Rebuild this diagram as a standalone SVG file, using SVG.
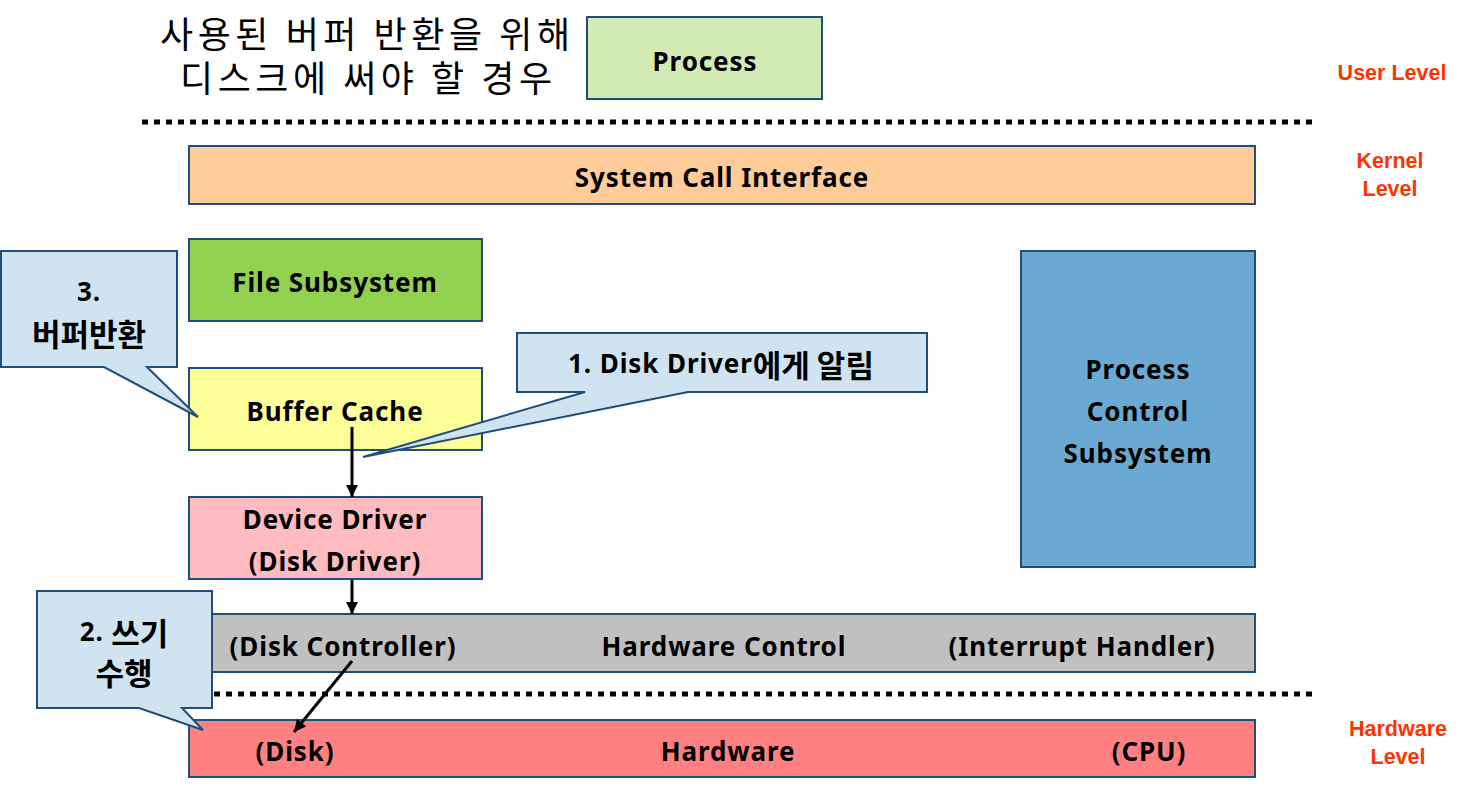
<svg xmlns="http://www.w3.org/2000/svg" width="1466" height="786" viewBox="0 0 1466 786">
<defs>
<style>
.box{stroke:#1F4E79;stroke-width:2}
.t{font-family:"Noto Sans","Noto Sans CJK KR",sans-serif;font-weight:bold;font-size:26px;letter-spacing:0.9px;fill:#000;text-anchor:middle;dominant-baseline:central}
.k{font-family:"Noto Sans CJK KR",sans-serif;font-size:31px;letter-spacing:0}
.lvl{font-family:"Liberation Sans",Arial,sans-serif;font-weight:bold;font-size:21.5px;fill:#FF3300;text-anchor:middle}
.title{font-family:"Noto Sans CJK KR",sans-serif;font-size:36px;fill:#000;text-anchor:middle}
.call{fill:#CFE3F0;stroke:#1F4E79;stroke-width:2;stroke-linejoin:miter}
.dots{stroke:#000;stroke-width:5;stroke-dasharray:6 6;fill:none}
.arr{stroke:#000;stroke-width:3;fill:none;marker-end:url(#ah)}
</style>
<marker id="ah" viewBox="0 0 10 10" refX="10" refY="5" markerWidth="4" markerHeight="4" orient="auto" markerUnits="strokeWidth">
<path d="M0,0 L10,5 L0,10 Z" fill="#000"/>
</marker>
</defs>
<rect width="1466" height="786" fill="#fff"/>

<g id="title">
<text class="title" x="365" y="48" textLength="410" lengthAdjust="spacing">사용된 버퍼 반환을 위해</text>
<text class="title" x="366" y="92" textLength="372" lengthAdjust="spacing">디스크에 써야 할 경우</text>
</g>

<g id="separators">
<line class="dots" x1="142" y1="122" x2="1314" y2="122"/>
<line class="dots" x1="214" y1="694" x2="1314" y2="694"/>
</g>

<g id="levels">
<text class="lvl" x="1392" y="80">User Level</text>
<text class="lvl" x="1390" y="168">Kernel</text>
<text class="lvl" x="1390" y="196">Level</text>
<text class="lvl" x="1398" y="736">Hardware</text>
<text class="lvl" x="1398" y="764">Level</text>
</g>

<g id="process">
<rect class="box" x="587" y="17" width="235" height="82" fill="#D2EAB4"/>
<text class="t" x="705" y="61">Process</text>
</g>

<g id="syscall">
<rect class="box" x="189" y="146" width="1066" height="58" fill="#FFCC99"/>
<text class="t" x="722" y="177">System Call Interface</text>
</g>

<g id="filesub">
<rect class="box" x="189" y="239" width="293" height="82" fill="#92D050"/>
<text class="t" x="335" y="282">File Subsystem</text>
</g>

<g id="buffercache">
<rect class="box" x="189" y="368" width="293" height="82" fill="#FFFF99"/>
<text class="t" x="335" y="411">Buffer Cache</text>
</g>

<g id="devicedriver">
<rect class="box" x="189" y="497" width="293" height="82" fill="#FFBBBF"/>
<text class="t" x="335" y="519">Device Driver</text>
<text class="t" x="335" y="561">(Disk Driver)</text>
</g>

<g id="processcontrol">
<rect class="box" x="1021" y="251" width="234" height="316" fill="#6AAAD2"/>
<text class="t" x="1138" y="369">Process</text>
<text class="t" x="1138" y="411">Control</text>
<text class="t" x="1138" y="453">Subsystem</text>
</g>

<g id="hwcontrol">
<rect class="box" x="189" y="614" width="1066" height="58" fill="#C0C0C0"/>
<text class="t" x="343" y="646">(Disk Controller)</text>
<text class="t" x="724" y="646">Hardware Control</text>
<text class="t" x="1082" y="646">(Interrupt Handler)</text>
</g>

<g id="hardware">
<rect class="box" x="189" y="720" width="1066" height="57" fill="#FF8080"/>
<text class="t" x="295" y="751">(Disk)</text>
<text class="t" x="728" y="751">Hardware</text>
<text class="t" x="1149" y="751">(CPU)</text>
</g>

<g id="connectors">
<line class="arr" x1="352" y1="427" x2="352" y2="497"/>
<line class="arr" x1="352" y1="580" x2="352" y2="614"/>
<line class="arr" x1="352" y1="661" x2="294" y2="732"/>
</g>

<g id="callout1">
<path class="call" d="M517,333 H927 V392 H688 L363,457 L585,392 H517 Z"/>
<text class="t" x="721" y="363">1. Disk Driver<tspan class="k">에게 알림</tspan></text>
</g>

<g id="callout2">
<path class="call" d="M37,591 H212 V708 H182 L203,730 L139,708 H37 Z"/>
<text class="t" x="124" y="631">2. <tspan class="k">쓰기</tspan></text>
<text class="t" x="124" y="671"><tspan class="k">수행</tspan></text>
</g>

<g id="callout3">
<path class="call" d="M1,251 H177 V367 H147 L198,417 L104,367 H1 Z"/>
<text class="t" x="89" y="291">3.</text>
<text class="t" x="89" y="332"><tspan class="k">버퍼반환</tspan></text>
</g>
</svg>
